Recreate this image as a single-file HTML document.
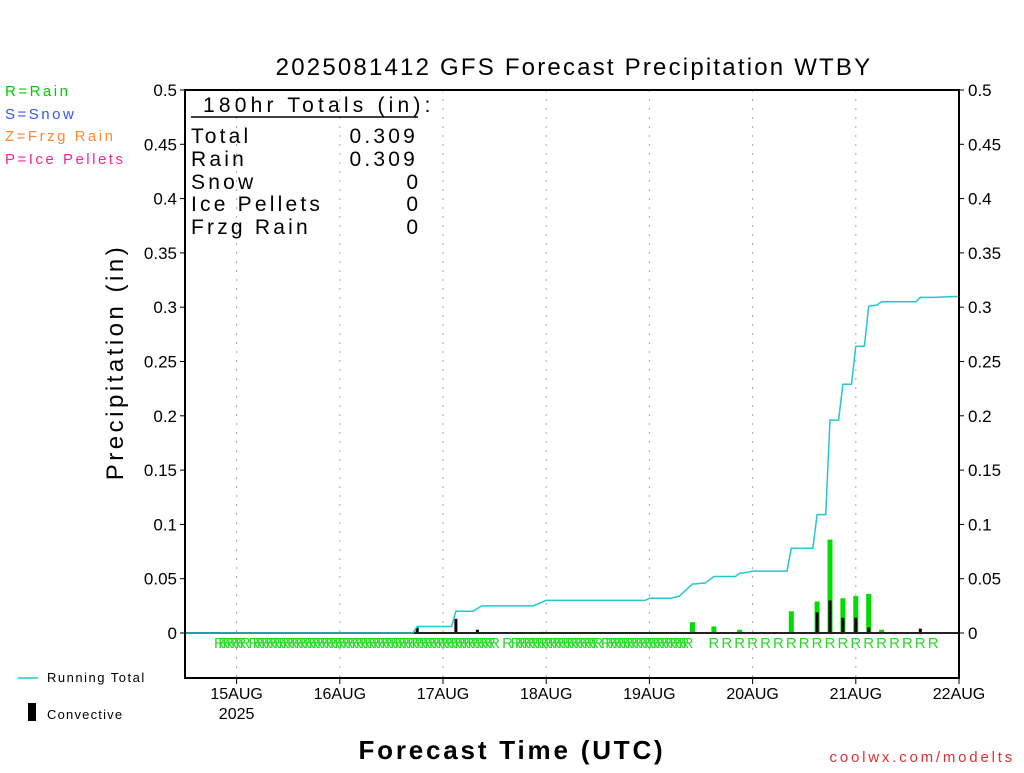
<!DOCTYPE html>
<html><head><meta charset="utf-8"><style>
body{margin:0;background:#fff}
svg text{font-family:"Liberation Sans","DejaVu Sans",sans-serif}
</style></head><body>
<svg id="c" width="1024" height="768" viewBox="0 0 1024 768">
<text x="574" y="75" font-size="24" text-anchor="middle" letter-spacing="2.2">2025081412 GFS Forecast Precipitation WTBY</text>
<text x="5" y="96" font-size="15" fill="#00cc00" letter-spacing="2.5">R=Rain</text>
<text x="5" y="119" font-size="15" fill="#3355ff" letter-spacing="2.5">S=Snow</text>
<text x="5" y="141" font-size="15" fill="#ff8833" letter-spacing="2.5">Z=Frzg Rain</text>
<text x="5" y="164" font-size="15" fill="#ff2299" letter-spacing="2.5">P=Ice Pellets</text>
<g id="grid"></g>
<g id="yl"></g>
<g id="yr"></g>
<g id="xa"></g>
<g id="bars"></g>
<g id="rl"></g>
<line x1="185" y1="633" x2="959" y2="633" stroke="#222" stroke-width="2"/>
<polyline id="run" fill="none" stroke="#22c8d0" stroke-width="1.5"/>
<rect x="185" y="90" width="774" height="588" fill="none" stroke="#000" stroke-width="2"/>
<g font-size="21">
<text x="203" y="112" letter-spacing="4.2">180hr Totals (in):</text>
<line x1="191" y1="117" x2="418" y2="117" stroke="#000" stroke-width="1.5"/>
<text x="191" y="143" letter-spacing="3.2">Total</text><text x="418" y="143" text-anchor="end" letter-spacing="3.2">0.309</text>
<text x="191" y="166" letter-spacing="3.2">Rain</text><text x="418" y="166" text-anchor="end" letter-spacing="3.2">0.309</text>
<text x="191" y="189" letter-spacing="3.2">Snow</text><text x="418" y="189" text-anchor="end">0</text>
<text x="191" y="211" letter-spacing="3.2">Ice Pellets</text><text x="418" y="211" text-anchor="end">0</text>
<text x="191" y="234" letter-spacing="3.2">Frzg Rain</text><text x="418" y="234" text-anchor="end">0</text>
</g>
<text transform="translate(123,362) rotate(-90)" font-size="24" text-anchor="middle" letter-spacing="3.5">Precipitation (in)</text>
<text x="512" y="759" font-size="26" font-weight="bold" text-anchor="middle" letter-spacing="2.8">Forecast Time (UTC)</text>
<line x1="18" y1="678" x2="38" y2="678" stroke="#22c8d0" stroke-width="1.5"/>
<text x="47" y="682" font-size="13" letter-spacing="1.5">Running Total</text>
<rect x="28" y="703" width="8" height="18" fill="#000"/>
<text x="47" y="719" font-size="13" letter-spacing="1.2">Convective</text>
<text x="1015" y="762" font-size="15" fill="#e03030" text-anchor="end" letter-spacing="2.8">coolwx.com/modelts</text>
</svg>
<script>
const yTicks=[0,0.05,0.1,0.15,0.2,0.25,0.3,0.35,0.4,0.45,0.5];
const dayLabels=["15AUG","16AUG","17AUG","18AUG","19AUG","20AUG","21AUG","22AUG"];
const dayHours=[12,36,60,84,108,132,156,180];
const runHours=[0,53,54,62,63,67,69,81,84,107,108,113,115,118,121,123,128,129,131,132,140,141,146,147,149,150,152,153,155,156,158,159,161,162,170,171,174,180];
const runValues=[0,0,.006,.006,.020,.020,.025,.025,.030,.030,.032,.032,.034,.045,.046,.052,.052,.055,.056,.057,.057,.078,.078,.109,.109,.196,.196,.229,.229,.264,.264,.301,.302,.305,.305,.309,.309,.310];
const barHours=[54,63,68,83,114,118,123,129,132,141,147,150,153,156,159,162,171];
const totalValues=[.005,.013,.003,.001,.001,.010,.006,.003,.001,.020,.029,.086,.032,.034,.036,.003,.004];
const convValues=[.005,.013,.003,.001,.001,0,0,0,0,0,.019,.030,.014,.014,.005,0,.004];
const rainHours=[];
[[8,14],[16,30],[31,72],[75,75],[77,96],[98,117]].forEach(r=>{for(let h=r[0];h<=r[1];h++)rainHours.push(h);});
for(let h=123;h<=174;h+=3)rainHours.push(h);

const NS="http://www.w3.org/2000/svg";
const X=h=>185+h*774/180, Y=v=>633-v*1086;
function mk(t,a,p){const e=document.createElementNS(NS,t);for(const k in a)e.setAttribute(k,a[k]);document.getElementById(p).appendChild(e);return e;}
yTicks.forEach(v=>{
 let t=mk('text',{x:177,y:Y(v)+6,'font-size':17,'text-anchor':'end'},'yl');t.textContent=String(v);
 
 
 let r=mk('text',{x:968,y:Y(v)+6,'font-size':17},'yr');r.textContent=String(v);
 
 
 mk('line',{x1:180,x2:185,y1:Y(v),y2:Y(v),stroke:'#000'},'yl');
 mk('line',{x1:959,x2:964,y1:Y(v),y2:Y(v),stroke:'#000'},'yr');
});
dayLabels.forEach((d,i)=>{
 const x=X(dayHours[i]);
 let t=mk('text',{x:x,y:699,'font-size':16,'text-anchor':'middle'},'xa');t.textContent=d;
 
 
 mk('line',{x1:x,x2:x,y1:678,y2:684,stroke:'#000'},'xa');
 if(i<dayLabels.length-1){let g=mk('line',{x1:x,x2:x,y1:90,y2:678,stroke:'#aaa','stroke-dasharray':'2,7'},'grid');
 
 }
});
let yr=mk('text',{x:X(12),y:719,'font-size':16,'text-anchor':'middle'},'xa');yr.textContent="2025";


barHours.forEach((h,i)=>{
 const x=X(h);
 if(totalValues[i]>convValues[i]){let b=mk('rect',{x:x-2.5,y:Y(totalValues[i]),width:5,height:633-Y(totalValues[i]),fill:'#00dd00'},'bars');
 
 }
 if(convValues[i]>0){let c=mk('rect',{x:x-1.5,y:Y(convValues[i]),width:3,height:633-Y(convValues[i]),fill:'#000'},'bars');
 
 }
});
rainHours.forEach(h=>{
 let t=mk('text',{x:X(h),y:648,'font-size':15,fill:'#22dd22','text-anchor':'middle'},'rl');t.textContent="R";
 
 
});
document.getElementById('run').setAttribute('points',runHours.map((h,i)=>X(h)+','+Y(runValues[i])).join(' '));
</script>
</body></html>
